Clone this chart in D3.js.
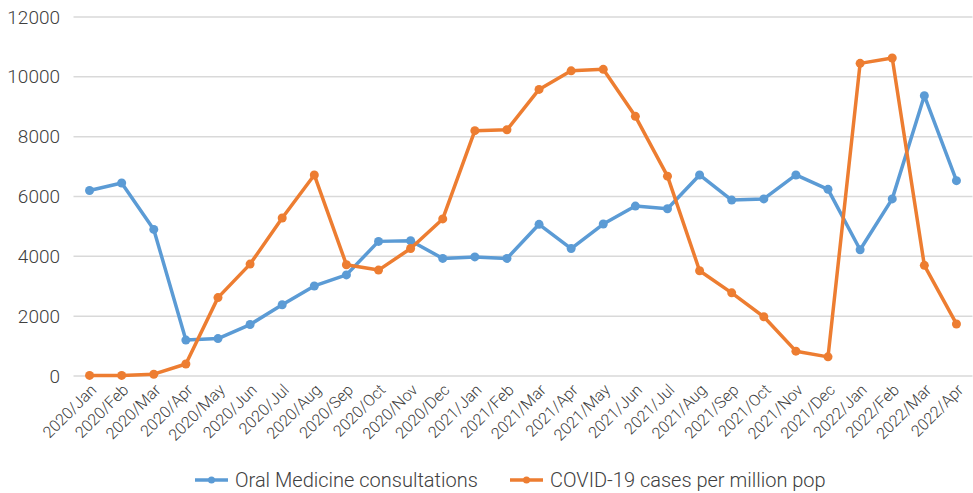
<!DOCTYPE html>
<html><head><meta charset="utf-8">
<script src="https://cdn.jsdelivr.net/npm/d3@7"></script>
<style>body{margin:0;background:#fff}svg{display:block}text{font-family:Roboto,"Noto Sans",sans-serif;fill:#404040}</style>
</head><body>
<svg id="c" width="973" height="493"></svg>
<script>
const categories = ["2020/Jan","2020/Feb","2020/Mar","2020/Apr","2020/May","2020/Jun","2020/Jul","2020/Aug","2020/Sep","2020/Oct","2020/Nov","2020/Dec",
"2021/Jan","2021/Feb","2021/Mar","2021/Apr","2021/May","2021/Jun","2021/Jul","2021/Aug","2021/Sep","2021/Oct","2021/Nov","2021/Dec",
"2022/Jan","2022/Feb","2022/Mar","2022/Apr"];
const oralMedicine = [6200,6450,4900,1200,1250,1720,2380,3010,3380,4500,4520,3930,3980,3930,5070,4260,5080,5680,5590,6720,5880,5920,6720,6240,4220,5920,9370,6530];
const covidCases = [20,20,60,400,2620,3740,5280,6720,3720,3540,4260,5250,8200,8230,9580,10200,10250,8680,6680,3520,2780,1980,830,640,10450,10630,3700,1740];
const yTicks = [0,2000,4000,6000,8000,10000,12000];
const seriesNames = ["Oral Medicine consultations","COVID-19 cases per million pop"];
const colors = ["#5B9BD5","#ED7D31"];

const svg = d3.select("#c");
const x = d3.scaleBand().domain(categories).range([73.5, 972.5]);
const y = d3.scaleLinear().domain([0,12000]).range([376, 17]);
const cx = d => x(d) + x.bandwidth()/2;

const grid = svg.append("g");
grid.selectAll("line").data(yTicks).join("line")
  .attr("x1",73.5).attr("x2",972.5).attr("y1",d=>y(d)).attr("y2",d=>y(d))
  .attr("stroke","#d9d9d9").attr("stroke-width",1.5);

svg.append("g").selectAll("text").data(yTicks).join("text")
  .attr("x",60).attr("y",d=>y(d)).attr("dy","0.35em").attr("text-anchor","end")
  .style("font-size","19px").style("font-weight","300").text(d=>d);

svg.append("g").selectAll("text").data(categories).join("text")
  .attr("transform",d=>`translate(${cx(d)+4},${387}) rotate(-45)`)
  .attr("text-anchor","end").attr("dy","0.35em")
  .style("font-size","16px").style("font-weight","300").text(d=>d);

const data = [oralMedicine, covidCases];
const line = d3.line().x((d,i)=>cx(categories[i])).y(d=>y(d));
data.forEach((s,k)=>{
  const g = svg.append("g");
  g.append("path").attr("d",line(s)).attr("fill","none").attr("stroke",colors[k])
    .attr("stroke-width",3.5).attr("stroke-linejoin","round").attr("stroke-linecap","round");
  g.selectAll("circle").data(s).join("circle")
    .attr("cx",(d,i)=>cx(categories[i])).attr("cy",d=>y(d)).attr("r",4.5).attr("fill",colors[k]);
});

const legX = [195, 510];
seriesNames.forEach((n,k)=>{
  const g = svg.append("g").attr("transform",`translate(${legX[k]},480)`);
  g.append("line").attr("x1",0).attr("x2",33).attr("stroke",colors[k]).attr("stroke-width",3.5);
  g.append("circle").attr("cx",16.5).attr("r",3.5).attr("fill",colors[k]);
  g.append("text").attr("x",40).attr("dy","0.35em").style("font-size","20px").style("font-weight","300").text(n);
});
</script>
</body></html>
